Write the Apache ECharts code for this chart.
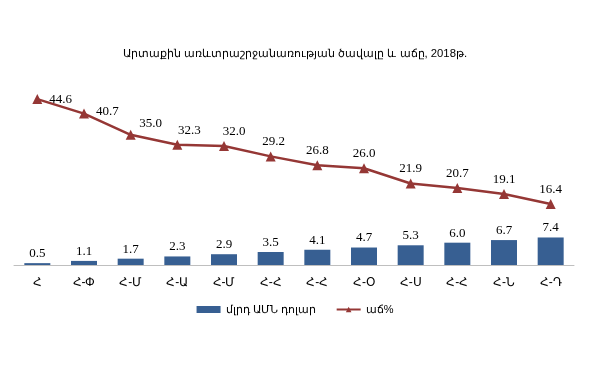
<!DOCTYPE html>
<html><head><meta charset="utf-8">
<script src="https://cdn.jsdelivr.net/npm/echarts@6/dist/echarts.min.js"></script>
<style>html,body{margin:0;padding:0;background:#fff}#c{width:590px;height:370px}</style>
</head><body><div id="c"></div>
<script>
const categories = ['Հ','Հ-Փ','Հ-Մ','Հ-Ա','Հ-Մ','Հ-Հ','Հ-Հ','Հ-Օ','Հ-Ս','Հ-Հ','Հ-Ն','Հ-Դ'];
const volume = [0.5,1.1,1.7,2.3,2.9,3.5,4.1,4.7,5.3,6.0,6.7,7.4];
const growth = [44.6,40.7,35.0,32.3,32.0,29.2,26.8,26.0,21.9,20.7,19.1,16.4];
const titleText = 'Արտաքին առևտրաշրջանառության ծավալը և աճը, 2018թ.';
const seriesNames = ['մլրդ ԱՄՆ դոլար','աճ%'];

const chart = echarts.init(document.getElementById('c'));
const labelShift = {0:{position:'right',offset:[4,0]},1:{position:'right',offset:[4,-2]},2:{offset:[20,3]},3:{offset:[12,0]},4:{offset:[10,0]},5:{offset:[3,0]}};
const lineData = growth.map((v,i)=> labelShift[i] ? {value:v,label:labelShift[i]} : v);
chart.setOption({
  animation:false,
  title:{text:titleText,left:'center',top:43,textStyle:{fontFamily:'Liberation Sans',fontSize:11.3,fontWeight:'normal',color:'#000'}},
  legend:{bottom:50,left:'center',itemGap:20,itemWidth:24,itemHeight:7,
    textStyle:{fontFamily:'Liberation Sans',fontSize:11,color:'#000'},
    data:[{name:seriesNames[0],icon:'rect'},{name:seriesNames[1]}]},
  grid:{left:14,right:16,top:79,bottom:105,containLabel:false},
  xAxis:{type:'category',data:categories,axisTick:{show:false},
    axisLine:{lineStyle:{color:'#bfbfbf',width:1}},
    axisLabel:{fontFamily:'Liberation Sans',fontSize:12,color:'#000',margin:12}},
  yAxis:{type:'value',min:0,max:50,show:false,splitLine:{show:false}},
  series:[
    {name:seriesNames[0],type:'bar',data:volume,barWidth:26,itemStyle:{color:'#375f92'},
      label:{show:true,position:'top',distance:3,fontFamily:'Liberation Serif',fontSize:13,color:'#000',formatter:p=>p.value.toFixed(1)}},
    {name:seriesNames[1],type:'line',data:lineData,symbol:'triangle',symbolSize:10,
      lineStyle:{color:'#953735',width:2.5},itemStyle:{color:'#953735'},
      label:{show:true,position:'top',distance:3,fontFamily:'Liberation Serif',fontSize:13,color:'#000',formatter:p=>p.value.toFixed(1)}}
  ]
});
</script></body></html>
